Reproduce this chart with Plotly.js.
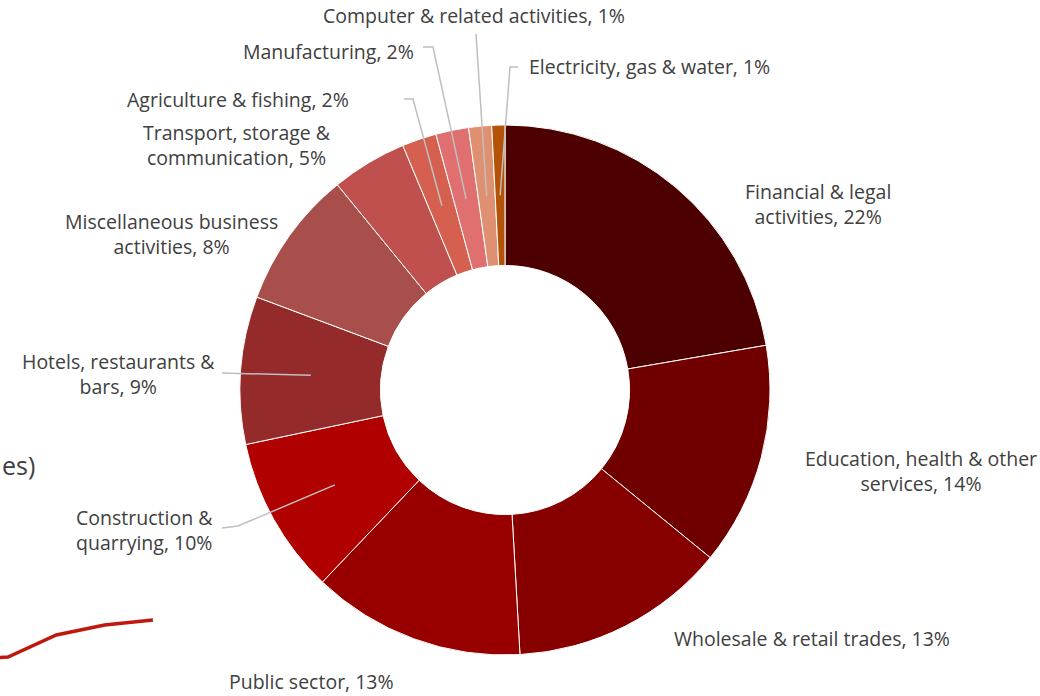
<!DOCTYPE html>
<html>
<head>
<meta charset="utf-8">
<script src="https://cdn.plot.ly/plotly-3.0.1.min.js"></script>
<style>html,body{margin:0;padding:0;background:#fff;}#chart{width:1040px;height:696px;}</style>
</head>
<body>
<div id="chart"></div>
<script>
// ---- Data ----
const sectors = [
  "Financial & legal activities",
  "Education, health & other services",
  "Wholesale & retail trades",
  "Public sector",
  "Construction & quarrying",
  "Hotels, restaurants & bars",
  "Miscellaneous business activities",
  "Transport, storage & communication",
  "Agriculture & fishing",
  "Manufacturing",
  "Computer & related activities",
  "Electricity, gas & water"
];
const shares = [22.3, 13.6, 13.2, 13.0, 9.6, 9.0, 8.4, 4.6, 2.1, 2.0, 1.4, 0.8];
const labelText = [
  "Financial & legal<br>activities, ",
  "Education, health & other<br>services, ",
  "Wholesale & retail trades, ",
  "Public sector, ",
  "Construction &<br>quarrying, ",
  "Hotels, restaurants &<br>bars, ",
  "Miscellaneous business<br>activities, ",
  "Transport, storage &<br>communication, ",
  "Agriculture & fishing, ",
  "Manufacturing, ",
  "Computer & related activities, ",
  "Electricity, gas & water, "
];
const sliceColors = ["#4d0000","#700000","#860000","#980000","#b00000","#952a2a",
                     "#a84f4b","#c0504d","#d56050","#e07070","#de9070","#b45307"];
// partial line from neighbouring chart (cropped)
const lineX = [0, 1, 2, 3, 4];
const lineY = [2.59, 2.80, 4.38, 5.10, 5.46];

// ---- Layout geometry ----
const W = 1040, H = 696;
const cx = 505, cy = 390, R = 265, hole = 0.47;
const px = x => x / W, py = y => 1 - y / H;

// label placement (layout only): [x, y, xanchor]
const labelPos = [
  [818, 204, "center"],
  [921, 471, "center"],
  [812, 638, "center"],
  [311, 681, "center"],
  [144, 530, "center"],
  [118, 374, "center"],
  [171, 234, "center"],
  [237, 145, "center"],
  [238, 99, "center"],
  [328, 51, "center"],
  [474, 16, "center"],
  [649, 67, "center"]
];
// leader line start points (null = no line)
const leaderStart = [
  null, null, null, null,
  [[222, 528], [238, 526]],
  [[222, 373]],
  null, null,
  [[404, 99], [413, 99]],
  [[423, 47], [433, 47]],
  [[476, 34]],
  [[518, 67], [510, 67]]
];

const total = shares.reduce((a, b) => a + b, 0);
const annotations = [];
const shapes = [];
let cum = 0;
const midR = R * (1 + hole) / 2;
shares.forEach((v, i) => {
  const pct = Math.round(v / total * 100) + "%";
  const mid = (cum + v / 2) / total * 2 * Math.PI;
  cum += v;
  const [lx, ly, anc] = labelPos[i];
  annotations.push({
    x: px(lx), y: py(ly), xref: "paper", yref: "paper",
    text: labelText[i] + pct, showarrow: false, xanchor: anc, yanchor: "middle",
    align: "center", font: {family: "'Open Sans', 'Noto Sans', sans-serif", size: 19.5, color: "#404040"}
  });
  if (leaderStart[i]) {
    const ex = cx + midR * Math.sin(mid), ey = cy - midR * Math.cos(mid);
    const pts = leaderStart[i].concat([[ex, ey]]);
    const path = pts.map((p, k) => (k ? "L" : "M") + px(p[0]) + "," + py(p[1])).join(" ");
    shapes.push({type: "path", xref: "paper", yref: "paper", path: path,
      line: {color: "#bfbfbf", width: 1.5}});
  }
});
annotations.push({
  x: 0, y: py(465), xref: "paper", yref: "paper", text: "es)", showarrow: false,
  xanchor: "left", yanchor: "middle",
  font: {family: "'Open Sans', 'Noto Sans', sans-serif", size: 25, color: "#404040"}
});

const pie = {
  type: "pie", labels: sectors, values: shares, sort: false, direction: "clockwise",
  rotation: 0, hole: hole, textinfo: "none", hoverinfo: "label+percent",
  marker: {colors: sliceColors, line: {color: "#ffffff", width: 1}},
  domain: {x: [px(cx - R), px(cx + R)], y: [py(cy + R), py(cy - R)]},
  showlegend: false
};
const line = {
  type: "scatter", mode: "lines", x: lineX, y: lineY, xaxis: "x", yaxis: "y",
  line: {color: "#c0180c", width: 3.5}, showlegend: false, hoverinfo: "skip"
};

const layout = {
  width: W, height: H, margin: {l: 0, r: 0, t: 0, b: 0},
  paper_bgcolor: "#ffffff", plot_bgcolor: "rgba(0,0,0,0)",
  showlegend: false,
  xaxis: {domain: [0, 0.2], range: [0.834, 5.141], visible: false, fixedrange: true},
  yaxis: {domain: [0, 0.2], range: [0, 10], visible: false, fixedrange: true},
  annotations: annotations, shapes: shapes
};
Plotly.newPlot("chart", [line, pie], layout, {displayModeBar: false, staticPlot: true});
</script>
</body>
</html>
